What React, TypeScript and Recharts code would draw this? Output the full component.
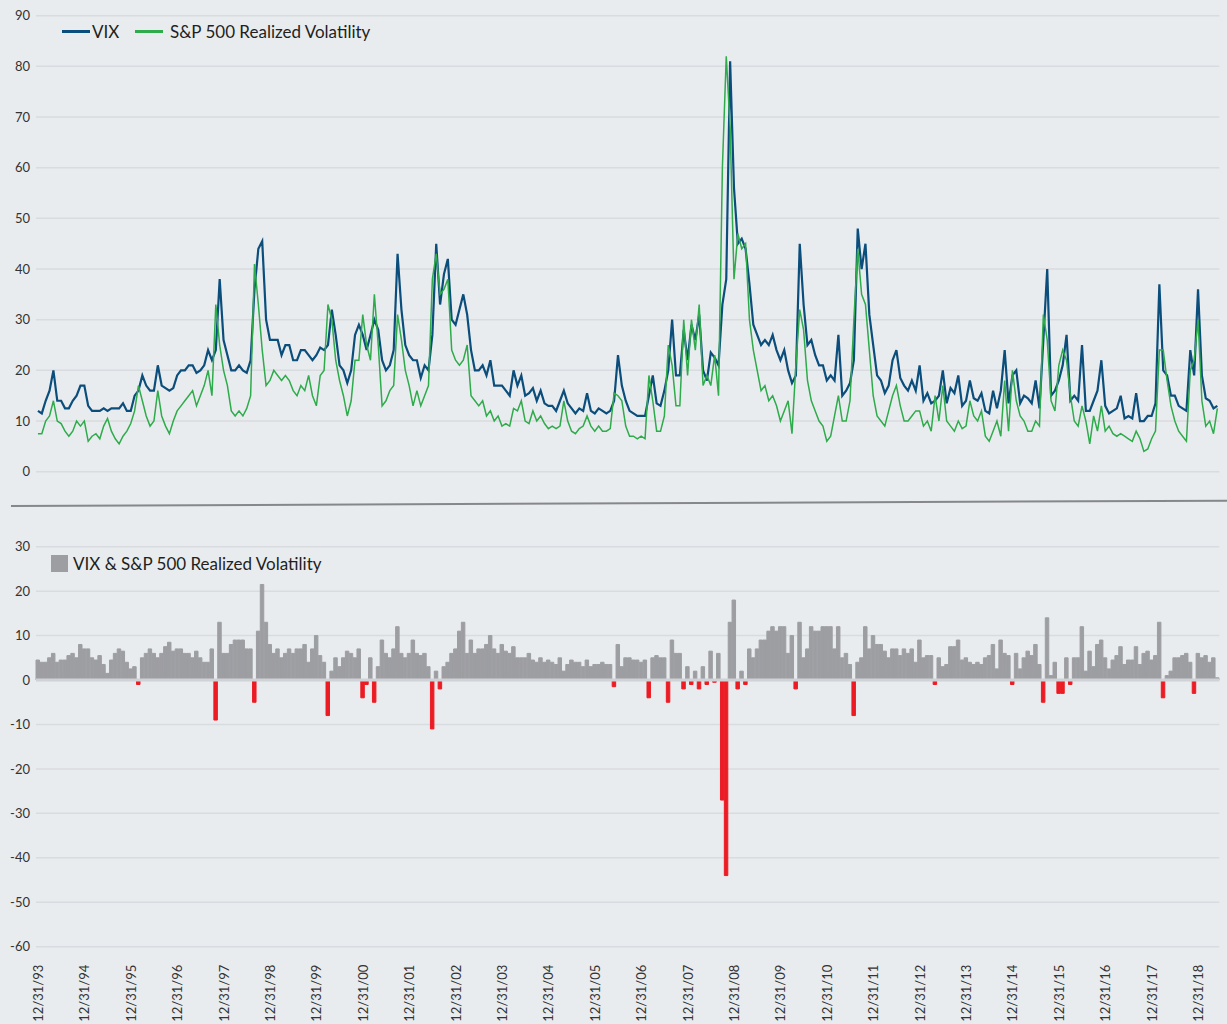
import React from 'react';
import { ComposedChart, Line, Bar, Cell, XAxis, YAxis, CartesianGrid, ReferenceLine } from 'recharts';

const FONT = 'Lato, "Open Sans", sans-serif';
const BG = '#e9ecef';
const GRID = '#d8dbdf';
const TEXT = '#333333';
const VIX_COLOR = '#0b4d7b';
const RV_COLOR = '#2eab4a';
const POS_COLOR = '#9d9ea2';
const NEG_COLOR = '#ec1c24';

// Month-end observations, Dec 1993 .. May 2019
const vix: number[] = [
  12, // Dec 93
  11.5, 14, 16, 20, 14, 14, 12.5, 12.5, 14, 15, 17, 17, // 1994
  13, 12, 12, 12, 12.5, 12, 12.5, 12.5, 12.5, 13.5, 12, 12, // 1995
  15, 16, 19, 17, 16, 16, 21, 17, 16.5, 16, 16.5, 19, // 1996
  20, 20, 21, 21, 19.5, 20, 21, 24, 22, 24, 38, 26, // 1997
  23, 20, 20, 21, 20, 19.5, 22, 36, 44, 45.5, 30, 26, // 1998
  26, 26, 23, 25, 25, 22, 22, 24, 24, 23, 22, 23, // 1999
  24.5, 24, 25, 32, 27, 21, 20, 17.5, 20, 27, 29, 27, // 2000
  24, 27, 30, 28, 22, 20, 21, 24, 43, 32, 25, 23, // 2001
  22, 22, 18.5, 21, 20, 27, 45, 33, 39, 42, 30, 29, // 2002
  32, 35, 31, 24, 20, 20, 21, 19, 22, 17, 17, 17, // 2003
  16, 15, 20, 17, 19, 15, 15.5, 16.5, 14, 16, 13.5, 13, // 2004
  13, 12, 14, 16, 13.5, 12.5, 11.5, 12.5, 12, 15.5, 12, 11.5, // 2005
  12.5, 12, 11.5, 12, 14, 23, 17, 14, 12, 11.5, 11, 11, // 2006
  11, 15, 19, 13.5, 13, 16, 20, 30, 19, 19, 28, 22, // 2007
  29, 26, 31, 20, 18, 23.5, 22.5, 21, 33, 38, 81, 56, // 2008
  45, 46, 44, 37, 29, 27, 25, 26, 25, 27, 24, 22, // 2009
  24, 20, 17.5, 19, 45, 33, 25, 26, 23, 21, 21, 18, // 2010
  19, 18, 27, 15, 16, 17.5, 22, 48, 40, 45, 31, 25, // 2011
  19, 18, 15.5, 17, 22, 24, 18.5, 17, 16, 18, 16, 21, // 2012
  14, 15.5, 13.5, 14, 15, 20, 13.5, 16.5, 15.5, 19, 13, 14, // 2013
  18, 14.5, 14, 15.5, 12, 11.5, 16, 12.5, 16, 24, 13.5, 19, // 2014
  20, 13.5, 15, 14.5, 13.5, 18, 12.5, 26, 40, 15, 16, 18, // 2015
  21, 27, 14, 15, 14, 25, 12, 12, 14, 16, 22, 13, // 2016
  11.5, 12, 12.5, 15, 10.5, 11, 10.5, 15.5, 10, 10, 11, 11, // 2017
  13.5, 37, 20, 19, 15, 15, 13, 12.5, 12, 24, 19, 36, // 2018
  19, 14.5, 14, 12.5, 13, // 2019
];

const realizedVol: number[] = [
  7.5, // Dec 93
  7.5, 10, 11, 14, 10, 9.5, 8, 7, 8, 10, 9, 10, // 1994
  6, 7, 7.5, 6.5, 9, 10.5, 8, 6.5, 5.5, 7, 8, 9.5, // 1995
  12, 17, 14, 11, 9, 10, 16, 11, 9, 7.5, 10, 12, // 1996
  13, 14, 15, 16, 13, 15, 17, 20, 15, 33, 25, 20, // 1997
  17, 12, 11, 12, 11, 12.5, 15, 41, 33, 24, 17, 18, // 1998
  20, 19, 18, 19, 18, 16, 15, 17, 16, 19, 15, 13, // 1999
  19, 20, 33, 30, 22, 18, 15, 11, 14, 22, 22, 31, // 2000
  25, 22, 35, 25, 13, 14, 16, 17, 31, 26, 20, 17, // 2001
  13, 16, 13, 15, 17, 38, 43, 35, 36, 38, 24, 22, // 2002
  21, 22, 25, 15, 14, 13, 14, 11, 12, 10, 11, 9, // 2003
  9.5, 9, 12.5, 12, 14, 10, 9.5, 12, 10, 11, 9.5, 8.5, // 2004
  9, 8.5, 9, 14, 10, 8, 7.5, 8.5, 9, 11, 9, 8, // 2005
  9, 8, 8, 8.5, 15.5, 15, 14, 9, 7, 7, 6.5, 7, // 2006
  6.5, 19, 14, 8, 8, 11, 25, 21, 13, 13, 30, 19, // 2007
  30, 24, 33, 17, 19, 17, 23, 15, 60, 82, 68, 38, // 2008
  47, 44, 45, 30, 24, 20, 16, 17, 14, 15, 13, 10, // 2009
  12, 14, 7.5, 21, 32, 28, 18, 14, 12, 10, 9, 6, // 2010
  7, 11, 15, 10, 10, 14, 30, 44, 35, 33, 24, 15, // 2011
  11, 10, 9, 12, 15, 17, 13, 10, 10, 11, 12, 12, // 2012
  9, 10, 8, 15, 10, 17, 10, 9, 8, 10, 8.5, 9, // 2013
  14, 11, 10, 12, 7, 6, 8, 10, 7, 18, 8, 20, // 2014
  14, 11, 10, 8, 8, 10, 9, 31, 26, 14, 12, 21, // 2015
  24, 22, 15, 10, 9, 13, 10, 5.5, 11, 8, 13, 8, // 2016
  9, 7.5, 7, 7.5, 7, 6.5, 6, 8, 6.5, 4, 4.5, 6.5, // 2017
  8, 24, 24, 18, 13, 10, 8, 7, 6, 20, 22, 30, // 2018
  14, 9, 10, 7.5, 12.5, // 2019
];

const tickLabels = [
  '12/31/93', '12/31/94', '12/31/95', '12/31/96', '12/31/97', '12/31/98', '12/31/99',
  '12/31/00', '12/31/01', '12/31/02', '12/31/03', '12/31/04', '12/31/05', '12/31/06',
  '12/31/07', '12/31/08', '12/31/09', '12/31/10', '12/31/11', '12/31/12', '12/31/13',
  '12/31/14', '12/31/15', '12/31/16', '12/31/17', '12/31/18',
];
const topTicks = [0, 10, 20, 30, 40, 50, 60, 70, 80, 90];
const bottomTicks = [-60, -50, -40, -30, -20, -10, 0, 10, 20, 30];

const START_YEAR = 1993;
const START_MONTH = 12;

const monthEndLabel = (i: number) => {
  const k = START_MONTH - 1 + i;
  const year = START_YEAR + Math.floor(k / 12);
  const month = (k % 12) + 1;
  const day = new Date(year, month, 0).getDate();
  return `${month}/${day}/${String(year).slice(2)}`;
};

const n = Math.min(vix.length, realizedVol.length);
const data = Array.from({ length: n }, (_, i) => ({
  date: monthEndLabel(i),
  vix: vix[i],
  rv: realizedVol[i],
  diff: +(vix[i] - realizedVol[i]).toFixed(2),
}));

const RotTick = (props: any) => {
  const { x, y, payload } = props;
  return (
    <text
      x={x}
      y={y}
      transform={`rotate(-90, ${x}, ${y})`}
      textAnchor="end"
      dominantBaseline="central"
      fontSize={13}
      fill={TEXT}
      fontFamily={FONT}
    >
      {payload.value}
    </text>
  );
};

const yTickStyle = { fontSize: 13, fill: TEXT, fontFamily: FONT };

export default function App() {
  return (
    <div
      style={{
        position: 'absolute',
        top: 0,
        left: 0,
        width: 1227,
        height: 1024,
        background: BG,
        overflow: 'hidden',
        fontFamily: FONT,
      }}
    >
      {/* Top panel */}
      <div style={{ position: 'absolute', top: 0, left: 0 }}>
        <ComposedChart
          width={1227}
          height={480}
          data={data}
          margin={{ top: 15.7, right: 7.7, bottom: 8.3, left: 0 }}
        >
          <CartesianGrid vertical={false} stroke={GRID} strokeWidth={1.5} />
          <XAxis dataKey="date" hide scale="band" />
          <YAxis
            width={36}
            domain={[0, 90]}
            ticks={topTicks}
            axisLine={false}
            tickLine={false}
            tickSize={0}
            tickMargin={6}
            tick={yTickStyle}
            interval={0}
          />
          <Line
            type="linear"
            dataKey="vix"
            stroke={VIX_COLOR}
            strokeWidth={2.2}
            dot={false}
            isAnimationActive={false}
          />
          <Line
            type="linear"
            dataKey="rv"
            stroke={RV_COLOR}
            strokeWidth={1.5}
            dot={false}
            isAnimationActive={false}
          />
        </ComposedChart>
      </div>

      {/* Top legend */}
      <div style={{ position: 'absolute', left: 62, top: 30, width: 28, height: 2.5, background: VIX_COLOR }} />
      <div style={{ position: 'absolute', left: 92, top: 22, lineHeight: '20px', fontSize: 17, color: '#231f20' }}>VIX</div>
      <div style={{ position: 'absolute', left: 135, top: 30, width: 28, height: 2.5, background: RV_COLOR }} />
      <div style={{ position: 'absolute', left: 170, top: 22, lineHeight: '20px', fontSize: 17, color: '#231f20', whiteSpace: 'nowrap' }}>
        S&amp;P 500 Realized Volatility
      </div>

      {/* Separator */}
      <div
        style={{
          position: 'absolute',
          left: 11,
          top: 505,
          width: 1222,
          height: 2,
          background: '#858789',
          transform: 'rotate(-0.25deg)',
          transformOrigin: '0 50%',
        }}
      />

      {/* Bottom panel */}
      <div style={{ position: 'absolute', top: 480, left: 0 }}>
        <ComposedChart
          width={1227}
          height={544}
          data={data}
          margin={{ top: 66.7, right: 7.7, bottom: 7.3, left: 0 }}
          barCategoryGap={0}
        >
          <CartesianGrid vertical={false} stroke={GRID} strokeWidth={1.5} />
          <XAxis
            dataKey="date"
            ticks={tickLabels}
            interval={0}
            height={70}
            axisLine={false}
            tickLine={false}
            tickSize={0}
            tickMargin={18}
            tick={<RotTick />}
          />
          <YAxis
            width={36}
            domain={[-60, 30]}
            ticks={bottomTicks}
            axisLine={false}
            tickLine={false}
            tickSize={0}
            tickMargin={6}
            tick={yTickStyle}
            interval={0}
          />
          <Bar dataKey="diff" barSize={4} isAnimationActive={false}>
            {data.map((d, i) => {
              const c = d.diff >= 0 ? POS_COLOR : NEG_COLOR;
              return <Cell key={i} fill={c} stroke={c} strokeWidth={1} />;
            })}
          </Bar>
          <ReferenceLine y={0} stroke="#cfd2d6" strokeWidth={3} />
        </ComposedChart>
      </div>

      {/* Bottom legend */}
      <div style={{ position: 'absolute', left: 51, top: 555, width: 17, height: 17, background: POS_COLOR }} />
      <div style={{ position: 'absolute', left: 73, top: 554, lineHeight: '20px', fontSize: 17, color: '#231f20', whiteSpace: 'nowrap' }}>
        VIX &amp; S&amp;P 500 Realized Volatility
      </div>
    </div>
  );
}
